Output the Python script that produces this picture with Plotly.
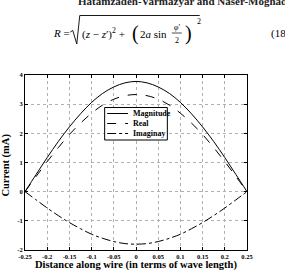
import plotly.graph_objects as go

# ---- data ----
distance = [-0.25, -0.225, -0.2, -0.175, -0.15, -0.125, -0.1, -0.075, -0.05, -0.025, 0.0,
            0.025, 0.05, 0.075, 0.1, 0.125, 0.15, 0.175, 0.2, 0.225, 0.25]
magnitude = [0.0, 0.59, 1.17, 1.72, 2.22, 2.67, 3.06, 3.37, 3.59, 3.73, 3.78,
             3.73, 3.59, 3.37, 3.06, 2.67, 2.22, 1.72, 1.17, 0.59, 0.0]
real_part = [0.0, 0.52, 1.03, 1.51, 1.96, 2.35, 2.69, 2.97, 3.17, 3.29, 3.33,
             3.29, 3.17, 2.97, 2.69, 2.35, 1.96, 1.51, 1.03, 0.52, 0.0]
imag_part = [0.0, -0.28, -0.56, -0.82, -1.06, -1.27, -1.46, -1.60, -1.71, -1.78, -1.80,
             -1.78, -1.71, -1.60, -1.46, -1.27, -1.06, -0.82, -0.56, -0.28, 0.0]
series_names = ["Magnitude", "Real", "Imaginay"]
x_tickvals = [-0.25, -0.2, -0.15, -0.1, -0.05, 0, 0.05, 0.1, 0.15, 0.2, 0.25]
x_ticktext = ["-0.25", "-0.2", "-0.15", "-0.1", "-0.05", "0", "0.05", "0.1", "0.15", "0.2", "0.25"]
y_tickvals = [-2, -1, 0, 1, 2, 3, 4]
y_ticktext = ["-2", "-1", "0", "1", "2", "3", "4"]

SERIF = "Liberation Serif, Times New Roman, DejaVu Serif, serif"
W, H = 285, 272
L, R, T, B = 24.5, 247.5, 75, 250

def px(x):
    return (x - L) / (R - L)

def py(y):
    return (B - y) / (B - T)

styles = ["solid", "dash", "dashdot"]
fig = go.Figure()
for name, vals, dash in zip(series_names, [magnitude, real_part, imag_part], styles):
    fig.add_trace(go.Scatter(x=distance, y=vals, mode="lines", name=name,
                             line=dict(color="black", width=1, dash=dash, shape="spline"),
                             showlegend=False))

axis_common = dict(showline=True, linecolor="black", linewidth=1, mirror="ticks",
                   ticks="inside", ticklen=3, tickcolor="black",
                   showgrid=True, gridcolor="#b0b0b0", griddash="dot", gridwidth=1,
                   zeroline=False,
                   tickfont=dict(family=SERIF, size=6.5, color="black", weight="bold"))
fig.update_xaxes(range=[-0.25, 0.25], tickvals=x_tickvals, ticktext=x_ticktext, **axis_common)
fig.update_yaxes(range=[-2, 4], tickvals=y_tickvals, ticktext=y_ticktext, **axis_common)

ann = []
shapes = []
# axis titles
ann.append(dict(text="<b>Distance along wire (in terms of wave length)</b>", xref="paper", yref="paper",
                x=px(136), y=py(265), xanchor="center", yanchor="middle", showarrow=False,
                font=dict(family=SERIF, size=10.5, color="black")))
ann.append(dict(text="<b>Current (mA)</b>", xref="paper", yref="paper", textangle=-90,
                x=px(5), y=py(165), xanchor="center", yanchor="middle", showarrow=False,
                font=dict(family=SERIF, size=10.5, color="black")))

# legend (drawn manually)
shapes.append(dict(type="rect", xref="paper", yref="paper", x0=px(104.5), x1=px(167.5),
                   y0=py(107.5), y1=py(140), line=dict(color="black", width=1), fillcolor="white",
                   layer="above"))
for i, (name, dash) in enumerate(zip(series_names, styles)):
    yy = 113.5 + 10 * i
    shapes.append(dict(type="line", xref="paper", yref="paper", x0=px(107), x1=px(128),
                       y0=py(yy), y1=py(yy), line=dict(color="black", width=1, dash=dash),
                       layer="above"))
    ann.append(dict(text="<b>" + name + "</b>", xref="paper", yref="paper", x=px(130.5), y=py(yy),
                    xanchor="left", yanchor="middle", showarrow=False,
                    font=dict(family=SERIF, size=8, color="black")))

# page text above the chart
ann.append(dict(text="<b>Hatamzadeh-Varmazyar and Naser-Moghadasi</b>", xref="paper", yref="paper",
                x=px(76), y=py(1), xanchor="left", yanchor="middle", showarrow=False,
                font=dict(family=SERIF, size=11, color="#222222")))
eq_font = dict(family=SERIF, size=11, color="black")
ann.append(dict(text="<i>R</i> =", xref="paper", yref="paper", x=px(51), y=py(33),
                xanchor="left", yanchor="middle", showarrow=False, font=eq_font))
# radical sign with overline
rad_pts = [(70, 32), (72.5, 30.5), (76.5, 44), (79.5, 15.5), (200, 15.5)]
path = "M " + " L ".join("%.5f,%.5f" % (px(a), py(b)) for a, b in rad_pts)
shapes.append(dict(type="path", xref="paper", yref="paper", path=path,
                   line=dict(color="black", width=0.9)))
ann.append(dict(text="(<i>z</i> − <i>z</i>′)<sup>2</sup> +", xref="paper", yref="paper", x=px(80), y=py(33),
                xanchor="left", yanchor="middle", showarrow=False, font=eq_font))
ann.append(dict(text="(", xref="paper", yref="paper", x=px(130), y=py(33),
                xanchor="left", yanchor="middle", showarrow=False,
                font=dict(family=SERIF, size=20, color="black")))
ann.append(dict(text="2<i>a</i> sin", xref="paper", yref="paper", x=px(138), y=py(34),
                xanchor="left", yanchor="middle", showarrow=False, font=eq_font))
ann.append(dict(text="<i>φ</i>′", xref="paper", yref="paper", x=px(177), y=py(27),
                xanchor="center", yanchor="middle", showarrow=False,
                font=dict(family=SERIF, size=8, color="black")))
shapes.append(dict(type="line", xref="paper", yref="paper", x0=px(172), x1=px(182),
                   y0=py(33), y1=py(33), line=dict(color="black", width=0.7)))
ann.append(dict(text="2", xref="paper", yref="paper", x=px(177), y=py(40),
                xanchor="center", yanchor="middle", showarrow=False,
                font=dict(family=SERIF, size=8, color="black")))
ann.append(dict(text=")", xref="paper", yref="paper", x=px(183), y=py(33),
                xanchor="left", yanchor="middle", showarrow=False,
                font=dict(family=SERIF, size=20, color="black")))
ann.append(dict(text="2", xref="paper", yref="paper", x=px(195), y=py(21),
                xanchor="left", yanchor="middle", showarrow=False,
                font=dict(family=SERIF, size=8, color="black")))
ann.append(dict(text="(18)", xref="paper", yref="paper", x=px(270), y=py(33),
                xanchor="left", yanchor="middle", showarrow=False, font=eq_font))

fig.update_layout(width=W, height=H, margin=dict(l=L, r=W - R, t=T, b=H - B, pad=0),
                  plot_bgcolor="white", paper_bgcolor="white",
                  annotations=ann, shapes=shapes, showlegend=False)
fig.write_html("out.html")
